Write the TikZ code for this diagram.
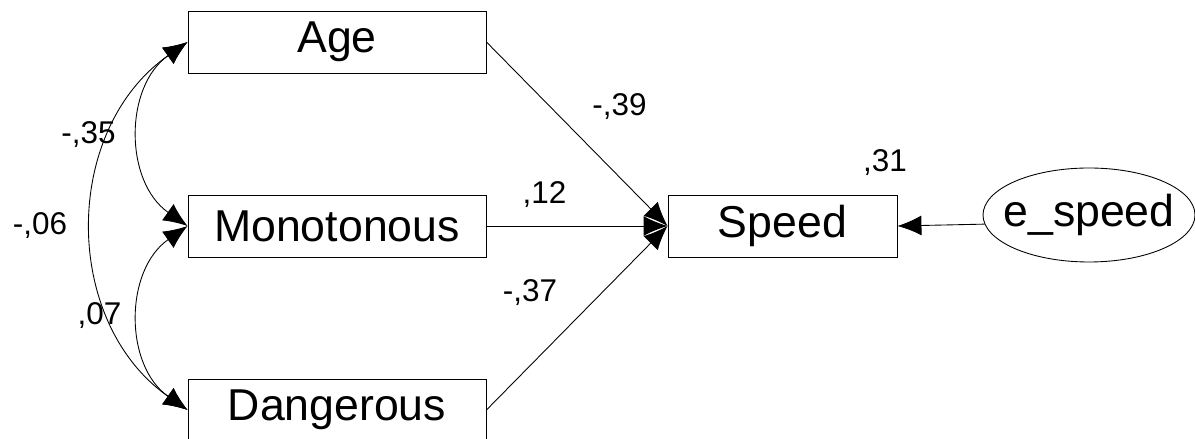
\documentclass[tikz,border=0pt]{standalone}
\usepackage{fontspec}
\setmainfont{Liberation Sans}
\usetikzlibrary{arrows.meta,shapes.geometric}
\begin{document}
\begin{tikzpicture}[
	var/.style={draw, rectangle, inner sep=0pt, minimum width=5.96cm, minimum height=1.24cm, font=\fontsize{25.4}{28}\selectfont},
	err/.style={draw, ellipse, inner xsep=-0.3cm, inner ysep=0pt, minimum width=4.24cm, minimum height=1.88cm, font=\fontsize{25.4}{28}\selectfont},
	lbl/.style={anchor=base, inner sep=0pt, font=\fontsize{17.9}{20}\selectfont},
	>={Latex[length=4.8mm, width=4mm]},
	every path/.style={line width=0.5pt}
	]
			\useasboundingbox (0,0) rectangle (23.9,8.78);
			
			\node	(age) at (6.74,7.94) [var] {Age};
			\node	(mono) at (6.74,4.26) [var] {Monotonous};
			\node	(dang) at (6.74,0.58) [var] {Dangerous};
			\node	(speed) at (15.65,4.26) [var, minimum width=4.58cm] {Speed};
			\node	(es) at (21.78,4.48) [err] {e\_speed};
			
			\node	(l35) at (1.77,5.90) [lbl] {-,35};
			\node	(l06) at (0.80,4.08) [lbl] {-,06};
			\node	(l07) at (1.99,2.28) [lbl] {,07};
			\node	(l39) at (12.39,6.46) [lbl] {-,39};
			\node	(l12) at (10.89,4.70) [lbl] {,12};
			\node	(l37) at (10.60,2.74) [lbl] {-,37};
			\node	(l31) at (17.70,5.34) [lbl] {,31};
			
			\draw 
			(age.east) edge[->] (speed.west) 
			(mono.east) edge[->] (speed.west)
			(dang.east) edge[->] (speed.west)
			(es.185) edge[->] (speed.east)
			(age.west) edge[<->, out=215, in=145, looseness=1.08] (mono.west)
			(mono.west) edge[<->, out=215, in=145, looseness=1.08] (dang.west)
			(age.west) edge[<->, out=215, in=145, looseness=1.07] (dang.west)
			;
		\end{tikzpicture}
\end{document}
